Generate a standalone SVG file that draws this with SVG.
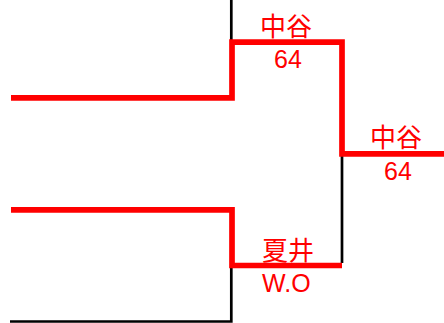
<svg xmlns="http://www.w3.org/2000/svg" width="444" height="323" viewBox="0 0 444 323">
<style>
.win{fill:none;stroke:#ff0000;stroke-width:5.7;stroke-linejoin:miter;stroke-linecap:butt}
.lose{fill:none;stroke:#000000;stroke-width:2.7;stroke-linecap:butt}
.lbl{fill:#ff0000;font-family:"Liberation Sans","Noto Sans CJK JP",sans-serif;font-size:25px;text-anchor:middle}
.cjk{font-size:26px}
</style>
<rect width="444" height="323" fill="#ffffff"/>
<g id="connectors">
<path class="lose" d="M231.3,0 V40"/>
<path class="lose" d="M342,156 V263"/>
<path class="lose" d="M231.3,268 V321.5 H10"/>
<path class="win" d="M11,97.8 H232 V42.2 H342 V153.8 H444"/>
<path class="win" d="M11,209.8 H232 V265.5 H342"/>
</g>
<g id="match-top">
<text class="lbl cjk" x="286" y="35.5">中谷</text>
<text class="lbl" x="288" y="68">64</text>
</g>
<g id="match-bottom">
<text class="lbl cjk" x="288" y="260">夏井</text>
<text class="lbl" x="286.3" y="291.7">W.O</text>
</g>
<g id="final">
<text class="lbl cjk" x="396" y="147">中谷</text>
<text class="lbl" x="398" y="179.7">64</text>
</g>
</svg>
